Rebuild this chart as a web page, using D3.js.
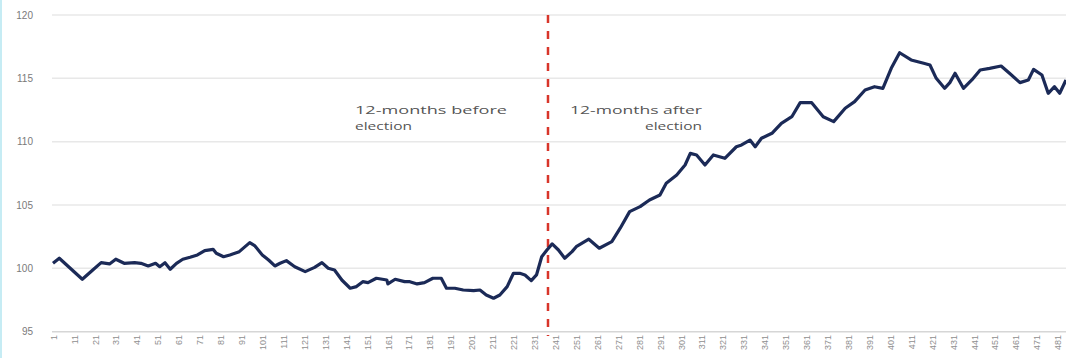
<!DOCTYPE html>
<html>
<head>
<meta charset="utf-8">
<script src="https://cdn.jsdelivr.net/npm/d3@7"></script>
<style>
  html, body { margin: 0; padding: 0; background: #fff; }
  svg { display: block; }
</style>
</head>
<body>
<svg id="chart" width="1066" height="358"></svg>
<script>
// ---- data ----
const days = [1, 4, 15, 20, 24, 28, 31, 35, 40, 43, 46.5, 50, 52, 54.5, 57, 60, 63, 66.5, 70, 73.5, 77.5, 79, 82.5, 85.5,
  90, 95, 97.5, 101, 104, 107, 109.5, 112.5, 116.5, 121.5, 126, 129.5, 132.5, 135.5, 139, 143, 146, 149, 151.5, 155.5,
  160.5, 161, 164.5, 169, 171.5, 175, 178.5, 182.5, 186.5, 189, 193, 197, 202, 205, 208, 211.5, 214.5, 218, 221, 224,
  226.5, 229.5, 232, 234.5, 237, 239.5, 242.5, 245.5, 249, 251, 257, 262, 268, 272, 276.5, 281.5, 286, 291, 294, 299,
  303, 305.5, 308.5, 312.5, 316.5, 322, 327.5, 330, 334, 336.5, 339.5, 344.5, 349, 354, 358, 363.5, 369, 374, 379.5,
  384, 389, 393.5, 397.5, 401.5, 405.5, 411, 417, 420, 423, 427, 429.5, 432, 436, 440, 444, 448.5, 454, 458, 463, 467,
  469.5, 473.5, 476.5, 479.5, 482, 485];
const values = [100.4, 100.8, 99.14, 99.87, 100.45, 100.35, 100.72, 100.4, 100.45, 100.4, 100.19, 100.4, 100.13, 100.45,
  99.93, 100.4, 100.72, 100.88, 101.06, 101.4, 101.5, 101.19, 100.92, 101.06,
  101.32, 102.03, 101.77, 101.06, 100.66, 100.19, 100.4, 100.61, 100.13, 99.74, 100.08, 100.45, 100.01, 99.87, 99.08,
  98.43, 98.56, 98.95, 98.87, 99.22,
  99.08, 98.77, 99.14, 98.95, 98.95, 98.77, 98.87, 99.22, 99.22, 98.43, 98.43, 98.29, 98.24, 98.29, 97.9, 97.64, 97.9,
  98.56, 99.61, 99.61,
  99.48, 99.03, 99.48, 100.92, 101.45, 101.93, 101.45, 100.8, 101.32, 101.71, 102.3, 101.59, 102.11, 103.17, 104.48,
  104.87, 105.4, 105.79, 106.72, 107.37,
  108.16, 109.08, 108.95, 108.16, 108.95, 108.69, 109.6, 109.74, 110.13, 109.6, 110.27, 110.66, 111.45, 111.97, 113.08,
  113.08, 111.97, 111.58, 112.64,
  113.16, 114.08, 114.34, 114.21, 115.79, 117.02, 116.45, 116.19, 116.05, 115.0, 114.21, 114.66, 115.4, 114.21, 114.87,
  115.66, 115.79, 115.97, 115.4, 114.66, 114.87,
  115.71, 115.26, 113.82, 114.34, 113.82, 114.87];
const yTickValues = [95, 100, 105, 110, 115, 120];
const xTickLabels = [1, 11, 21, 31, 41, 51, 61, 71, 81, 91, 101, 111, 121, 131, 141, 151, 161, 171, 181, 191, 201, 211,
  221, 231, 241, 251, 261, 271, 281, 291, 301, 311, 321, 331, 341, 351, 361, 371, 381, 391, 401, 411, 421, 431, 441, 451,
  461, 471, 481];
const electionDay = [237.5];
const annotations = [
  { lines: ["12-months before", "election"], side: "before" },
  { lines: ["12-months after", "election"], side: "after" }
];

// ---- drawing ----
const svg = d3.select("#chart");
const W = 1066, H = 358;
const x = d3.scaleLinear().domain([1, 485]).range([53, 1066]);
const y = d3.scaleLinear().domain([95, 120]).range([331.7, 15]);

// left light border
svg.append("line").attr("x1", 1).attr("x2", 1).attr("y1", 0).attr("y2", H)
  .attr("stroke", "#c6ecf4").attr("stroke-width", 2);

// gridlines
svg.append("g").selectAll("line").data(yTickValues).join("line")
  .attr("x1", 52).attr("x2", W)
  .attr("y1", d => y(d)).attr("y2", d => y(d))
  .attr("stroke", d => d === 95 ? "#d6d6d6" : "#e8e8e8")
  .attr("stroke-width", 1.5);

// y axis labels
const yAxis = d3.axisLeft(y).tickValues(yTickValues).tickSize(0).tickPadding(0);
const gy = svg.append("g").attr("transform", "translate(33,0)").call(yAxis);
gy.select(".domain").remove();
gy.selectAll("text").attr("font-family", "'Liberation Sans', Arial, sans-serif")
  .attr("font-size", 10).attr("fill", "#7a7a7a");

// x axis labels (rotated)
const xAxis = d3.axisBottom(x).tickValues(xTickLabels).tickSize(0).tickPadding(0).tickFormat(d3.format("d"));
const gx = svg.append("g").attr("transform", "translate(0,335)").call(xAxis);
gx.select(".domain").remove();
gx.selectAll("text")
  .attr("font-family", "'Liberation Sans', Arial, sans-serif")
  .attr("font-size", 9).attr("fill", "#8f8f8f")
  .attr("text-anchor", "end")
  .attr("transform", "rotate(-90)")
  .attr("x", 0).attr("y", 0).attr("dx", 0).attr("dy", "0.35em");

// election dashed line
svg.append("g").selectAll("line").data(electionDay).join("line")
  .attr("x1", d => x(d)).attr("x2", d => x(d))
  .attr("y1", 15).attr("y2", 336)
  .attr("stroke", "#d8352a").attr("stroke-width", 2.5)
  .attr("stroke-dasharray", "8,8");

// series line
const pts = days.map((d, i) => [d, values[i]]);
svg.append("path").datum(pts)
  .attr("fill", "none")
  .attr("stroke", "#1b2a57")
  .attr("stroke-width", 3.2)
  .attr("stroke-linejoin", "round")
  .attr("d", d3.line().x(d => x(d[0])).y(d => y(d[1])));

// annotations
const annPos = {
  before: { x: 355, anchor: "start", lens: [152, 57] },
  after: { x: 702, anchor: "end", lens: [132, 57] }
};
annotations.forEach(a => {
  const p = annPos[a.side];
  a.lines.forEach((t, i) => {
    const txt = svg.append("text")
      .attr("y", 114 + i * 16)
      .attr("font-family", "'Open Sans', sans-serif")
      .attr("font-size", 11.5)
      .attr("fill", "#555")
      .attr("textLength", p.lens[i])
      .attr("lengthAdjust", "spacingAndGlyphs")
      .text(t);
    if (p.anchor === "start") {
      txt.attr("x", p.x);
    } else {
      txt.attr("x", p.x - p.lens[i]);
    }
  });
});
</script>
</body>
</html>
